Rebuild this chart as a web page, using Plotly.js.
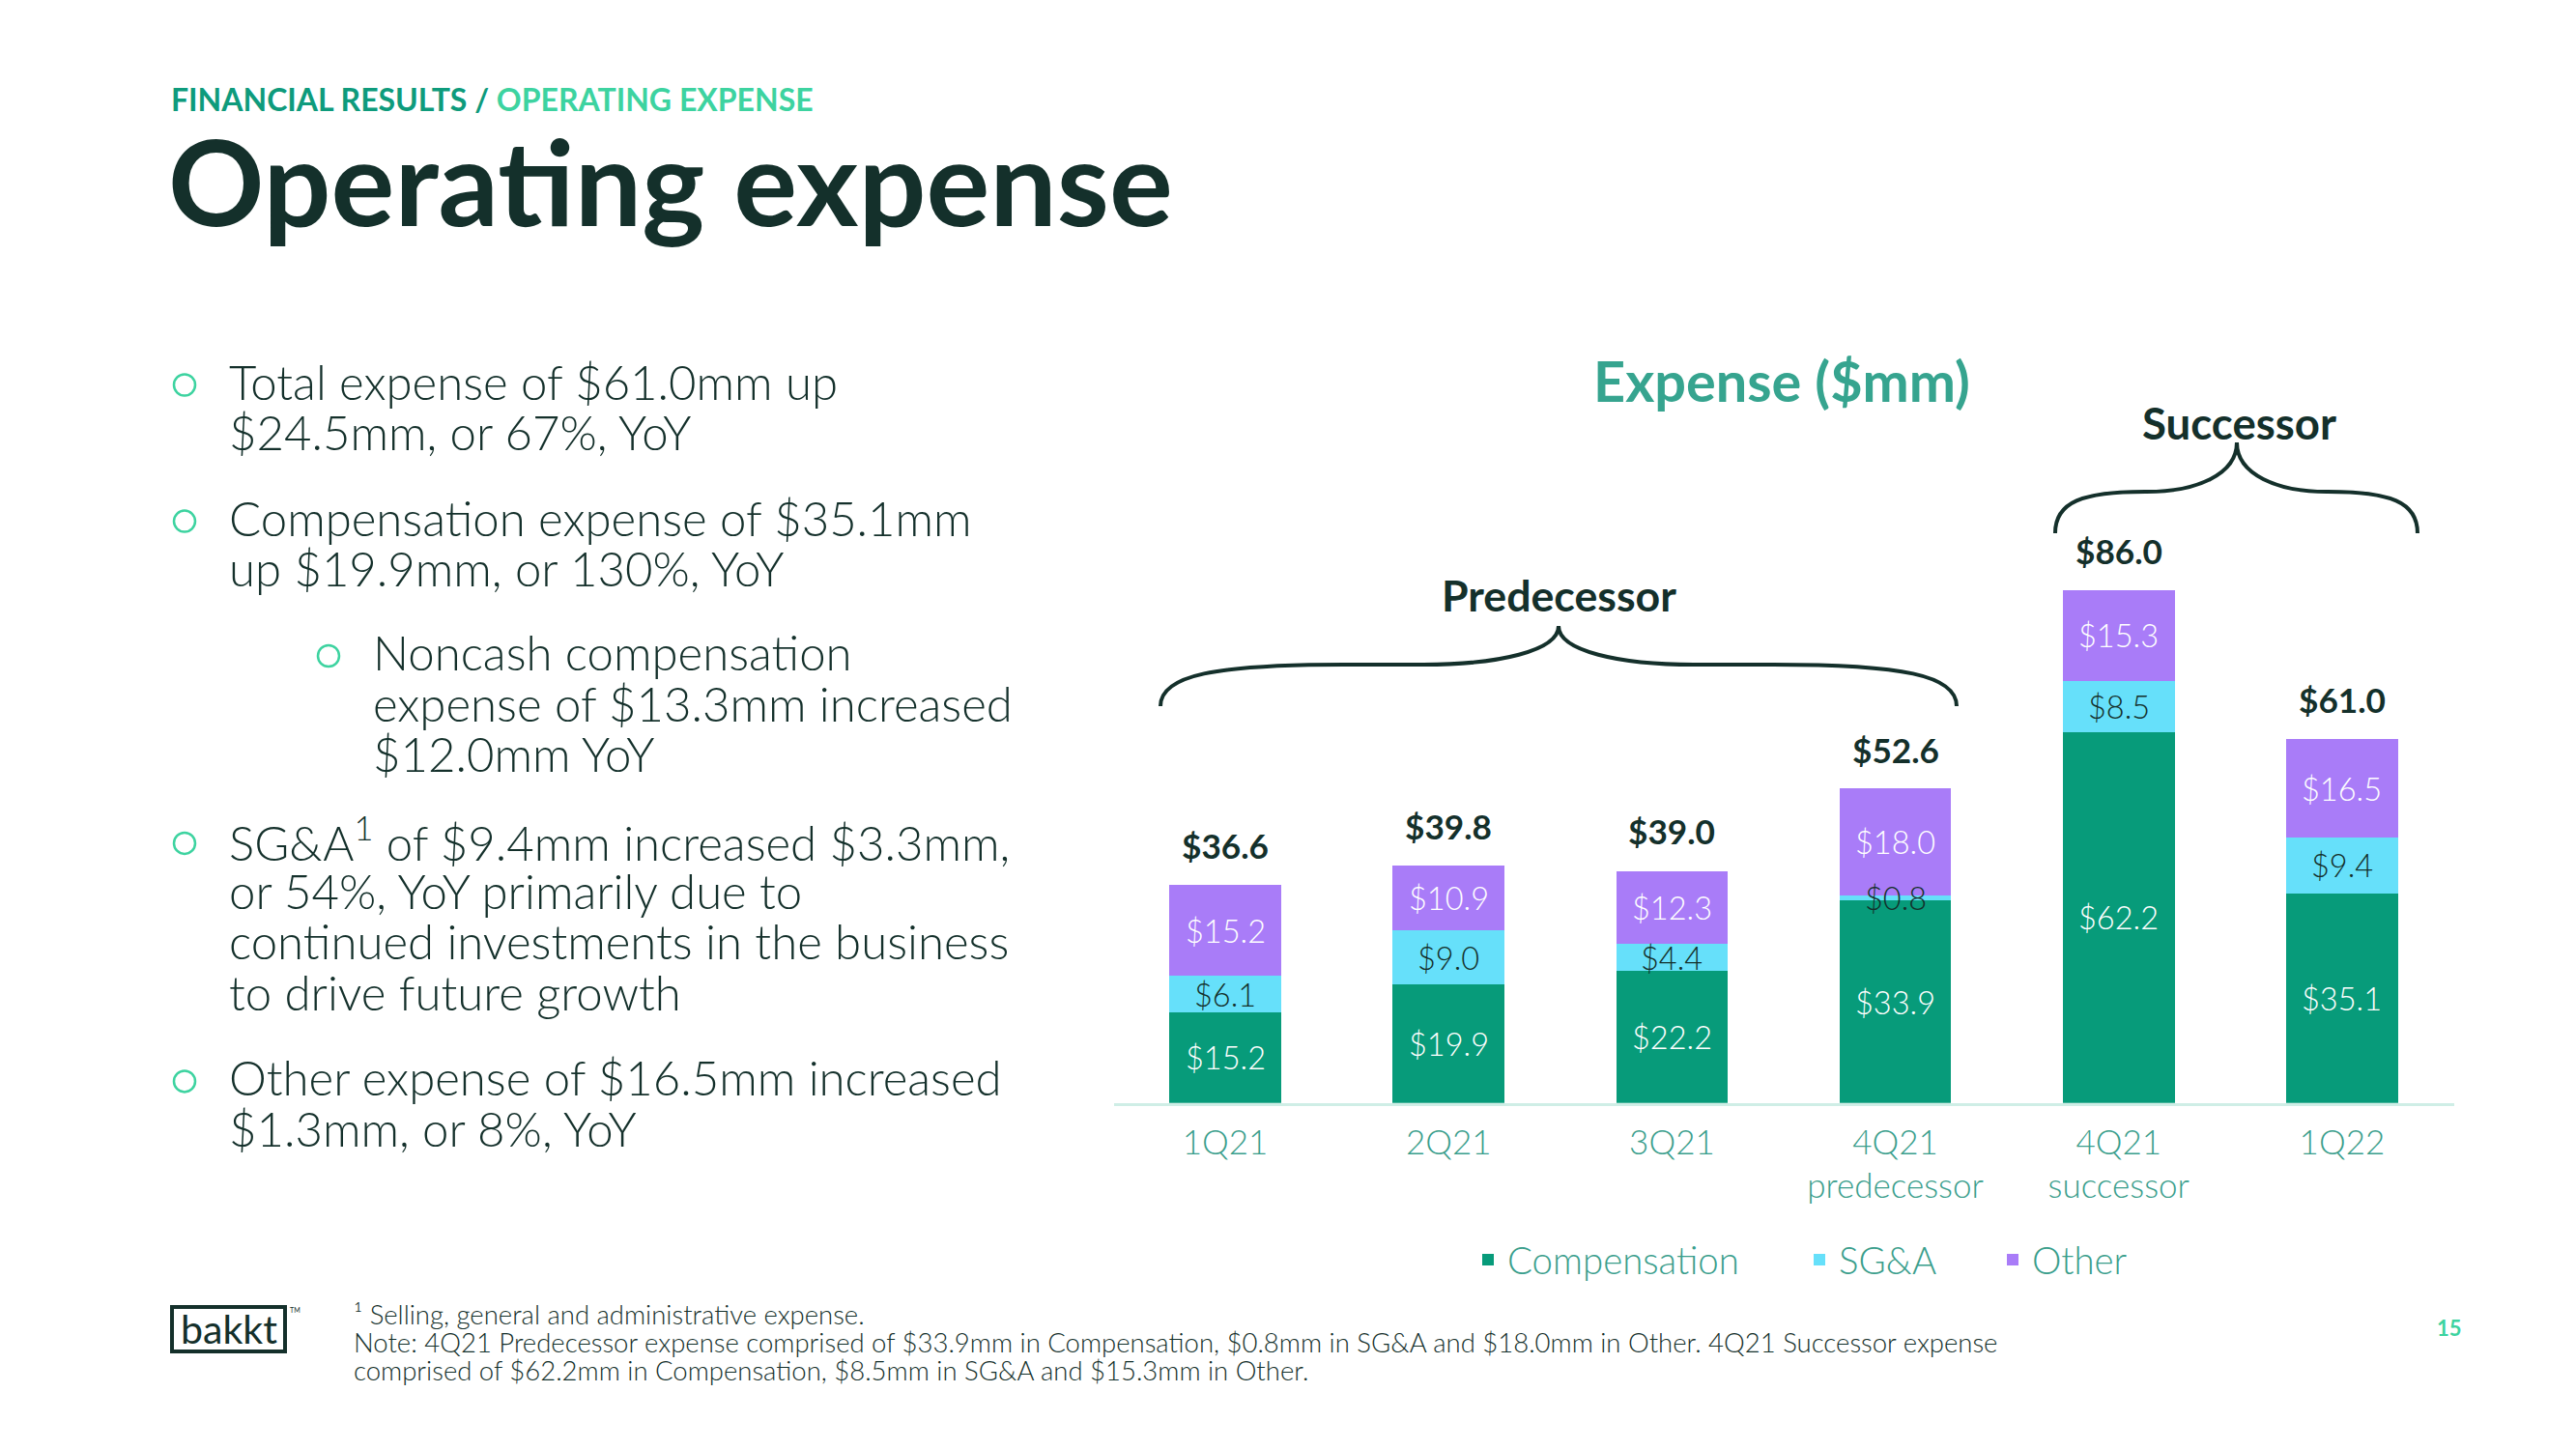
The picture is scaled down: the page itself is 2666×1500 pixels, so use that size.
<!DOCTYPE html>
<html><head><meta charset="utf-8">
<script src="https://cdn.plot.ly/plotly-3.0.1.min.js"></script>
<style>html,body{margin:0;padding:0;background:#fff;overflow:hidden}#chart{width:2666px;height:1500px}</style>
</head><body><div id="chart"></div>
<script>
// ---------------- data ----------------
const categories = ['1Q21', '2Q21', '3Q21', '4Q21<br>predecessor', '4Q21<br>successor', '1Q22'];
const compensation = [15.2, 19.9, 22.2, 33.9, 62.2, 35.1];
const sga = [6.1, 9.0, 4.4, 0.8, 8.5, 9.4];
const other = [15.2, 10.9, 12.3, 18.0, 15.3, 16.5];
const totals = [36.6, 39.8, 39.0, 52.6, 86.0, 61.0];
const seriesNames = ['Compensation', 'SG&A', 'Other'];
const groupLabels = ['Predecessor', 'Successor'];
const chartTitle = 'Expense ($mm)';
const bulletBlocks = [
  ['Total expense of $61.0mm up', '$24.5mm, or 67%, YoY'],
  ['Compensation expense of $35.1mm', 'up $19.9mm, or 130%, YoY'],
  ['Noncash compensation', 'expense of $13.3mm increased', '$12.0mm YoY'],
  ['SG&amp;A<sup>1</sup> of $9.4mm increased $3.3mm,', 'or 54%, YoY primarily due to', 'continued investments in the business', 'to drive future growth'],
  ['Other expense of $16.5mm increased', '$1.3mm, or 8%, YoY']
];
const footnotes = [
  '\u00b9 Selling, general and administrative expense.',
  'Note: 4Q21 Predecessor expense comprised of $33.9mm in Compensation, $0.8mm in SG&amp;A and $18.0mm in Other. 4Q21 Successor expense',
  'comprised of $62.2mm in Compensation, $8.5mm in SG&amp;A and $15.3mm in Other.'
];

// ---------------- style ----------------
const W = 2666, H = 1500;
const px = x => x / W, py = y => 1 - y / H;
const BODY = 'Lato, "Open Sans", sans-serif';
const DARK = '#14302B', TEAL = '#3A9E8C', MINT = '#3DD3A0', GREEN = '#0E9B7C';
const colors = ['#079B7A', '#66E0FA', '#A97CF8'];
const labelColors = ['#FFFFFF', DARK, '#FFFFFF'];

const ctx = document.createElement('canvas').getContext('2d');
function fit(text, weight, target) {
  ctx.font = weight + ' 100px ' + BODY;
  return 100 * target / ctx.measureText(text).width;
}
const strip = s => s.replace(/<[^>]+>/g, '').replace(/&amp;/g, '&');

const bodySize = (fit('continued investments in the business', 300, 802) + fit('Compensation expense of $35.1mm', 300, 775)) / 2;
const tickSize = 35;
const legendSize = fit('Compensation', 300, 240);
const segSize = fit('$15.2', 300, 83);
const totSize = fit('$36.6', 700, 90);
const footSize = fit(strip(footnotes[1]), 300, 1705);

// ---------------- traces ----------------
const series = [compensation, sga, other];
const legendIds = ['legend', 'legend2', 'legend3'];
const traces = series.map((vals, k) => ({
  type: 'bar', x: categories, y: vals, name: seriesNames[k], legend: legendIds[k],
  marker: {color: colors[k], line: {width: 0}},
  hoverinfo: 'skip'
}));

// ---------------- annotations ----------------
const ann = [];
categories.forEach((c, i) => {
  let base = 0;
  series.forEach((vals, k) => {
    ann.push({xref: 'x', yref: 'y', x: c, y: base + vals[i] / 2, text: '$' + vals[i].toFixed(1),
      showarrow: false, xanchor: 'center', yanchor: 'middle',
      font: {family: BODY, weight: 300, size: segSize, color: labelColors[k]}});
    base += vals[i];
  });
  ann.push({xref: 'x', yref: 'y', x: c, y: totals[i], text: '$' + totals[i].toFixed(1),
    showarrow: false, xanchor: 'center', yanchor: 'bottom', yshift: 18,
    font: {family: BODY, weight: 700, size: totSize, color: DARK}});
});

// page header
const hdr = 'FINANCIAL RESULTS / OPERATING EXPENSE';
ann.push({xref: 'paper', yref: 'paper', x: px(175), y: py(103), xanchor: 'left', yanchor: 'middle', showarrow: false,
  text: '<span style="color:' + GREEN + '">FINANCIAL RESULTS /</span> <span style="color:' + MINT + '">OPERATING EXPENSE</span>',
  font: {family: BODY, weight: 700, size: fit(hdr, 700, 666)}});
ann.push({xref: 'paper', yref: 'paper', x: px(172), y: py(186), xanchor: 'left', yanchor: 'middle', showarrow: false,
  text: 'Operating expense', font: {family: BODY, weight: 700, size: fit('Operating expense', 700, 1040), color: DARK}});

// bullets
const lineY = [[394.5, 447.2], [535.6, 588.3], [675.0, 727.7, 780.4], [868.9, 921.6, 974.3, 1027.0], [1115.4, 1168.1]];
const blockX = [235, 235, 384, 235, 235];
const bulletX = [191, 191, 340, 191, 191];
const shapes = [];
bulletBlocks.forEach((lines, b) => {
  lines.forEach((t, j) => {
    ann.push({xref: 'paper', yref: 'paper', x: px(blockX[b]), y: py(lineY[b][j]), xanchor: 'left', yanchor: 'middle',
      showarrow: false, text: t, font: {family: BODY, weight: 300, size: bodySize, color: DARK}});
  });
  const cx = bulletX[b], cy = lineY[b][0] + 4, r = 11;
  shapes.push({type: 'circle', xref: 'paper', yref: 'paper', x0: px(cx - r), x1: px(cx + r), y0: py(cy + r), y1: py(cy - r),
    line: {color: MINT, width: 2.5}});
});

// chart title and group labels
ann.push({xref: 'paper', yref: 'paper', x: px(1844), y: py(393), xanchor: 'center', yanchor: 'middle', showarrow: false,
  text: chartTitle, font: {family: BODY, weight: 700, size: fit(chartTitle, 700, 390), color: '#36A48F'}});
ann.push({xref: 'paper', yref: 'paper', x: px(1613), y: py(616), xanchor: 'center', yanchor: 'middle', showarrow: false,
  text: groupLabels[0], font: {family: BODY, weight: 700, size: fit(groupLabels[0], 700, 243), color: DARK}});
ann.push({xref: 'paper', yref: 'paper', x: px(2317), y: py(437), xanchor: 'center', yanchor: 'middle', showarrow: false,
  text: groupLabels[1], font: {family: BODY, weight: 700, size: fit(groupLabels[1], 700, 201), color: DARK}});

// braces
function brace(xL, xR, xt, yEnd, yMid, yTip, a, b) {
  const P = (x, y) => px(x).toFixed(5) + ',' + py(y).toFixed(5);
  const hE = yEnd - yMid, hT = yMid - yTip;
  return 'M' + P(xL, yEnd) +
    ' C' + P(xL, yEnd - 0.75 * hE) + ' ' + P(xL + 0.3 * a, yMid) + ' ' + P(xL + a, yMid) +
    ' L' + P(xt - b, yMid) +
    ' C' + P(xt - 0.45 * b, yMid) + ' ' + P(xt, yMid - 0.35 * hT) + ' ' + P(xt, yTip) +
    ' C' + P(xt, yMid - 0.35 * hT) + ' ' + P(xt + 0.45 * b, yMid) + ' ' + P(xt + b, yMid) +
    ' L' + P(xR - a, yMid) +
    ' C' + P(xR - 0.3 * a, yMid) + ' ' + P(xR, yEnd - 0.75 * hE) + ' ' + P(xR, yEnd);
}
shapes.push({type: 'path', xref: 'paper', yref: 'paper', path: brace(1201, 2025, 1613, 731, 688, 648, 190, 140),
  line: {color: DARK, width: 4}});
shapes.push({type: 'path', xref: 'paper', yref: 'paper', path: brace(2127, 2502, 2315, 552, 509, 458, 93, 93),
  line: {color: DARK, width: 4}});

// footer: logo, footnotes, page number
shapes.push({type: 'rect', xref: 'paper', yref: 'paper', x0: px(178), x1: px(295), y0: py(1399), y1: py(1353),
  line: {color: DARK, width: 4}});
ann.push({xref: 'paper', yref: 'paper', x: px(236.5), y: py(1375), xanchor: 'center', yanchor: 'middle', showarrow: false,
  text: 'bakkt', font: {family: BODY, weight: 400, size: fit('bakkt', 400, 100), color: DARK}});
ann.push({xref: 'paper', yref: 'paper', x: px(298), y: py(1356), xanchor: 'left', yanchor: 'middle', showarrow: false,
  text: 'TM', font: {family: BODY, weight: 400, size: 7, color: DARK}});
const footY = [1360, 1389, 1418];
footnotes.forEach((t, j) => {
  ann.push({xref: 'paper', yref: 'paper', x: px(364), y: py(footY[j]), xanchor: 'left', yanchor: 'middle', showarrow: false,
    text: t, font: {family: BODY, weight: 300, size: footSize, color: DARK}});
});
ann.push({xref: 'paper', yref: 'paper', x: px(2535), y: py(1374), xanchor: 'center', yanchor: 'middle', showarrow: false,
  text: '15', font: {family: BODY, weight: 700, size: 22, color: MINT}});

// ---------------- layout ----------------
const legendBase = {orientation: 'h', yanchor: 'middle', xanchor: 'left', y: py(1304),
  font: {family: BODY, weight: 300, size: legendSize, color: TEAL}, itemclick: false, itemdoubleclick: false,
  bgcolor: 'rgba(0,0,0,0)'};
const layout = {
  width: W, height: H, margin: {l: 0, r: 0, t: 0, b: 0},
  paper_bgcolor: '#FFFFFF', plot_bgcolor: 'rgba(0,0,0,0)',
  barmode: 'stack', bargap: 0.5, hovermode: false,
  xaxis: {domain: [px(1152.5), px(2539.5)], type: 'category', range: [-0.5, 5.5],
    showline: true, linecolor: '#CFEEE6', linewidth: 3, showgrid: false, zeroline: false, ticks: '',
    tickfont: {family: BODY, weight: 300, size: tickSize, color: TEAL}, ticklabelstandoff: 8, fixedrange: true},
  yaxis: {domain: [py(1141.7), py(524.3)], range: [0, 100], visible: false, fixedrange: true},
  showlegend: true,
  legend: Object.assign({}, legendBase, {x: px(1520)}),
  legend2: Object.assign({}, legendBase, {x: px(1863)}),
  legend3: Object.assign({}, legendBase, {x: px(2063)}),
  annotations: ann, shapes: shapes
};
Plotly.newPlot('chart', traces, layout, {staticPlot: true, displayModeBar: false});
</script></body></html>
